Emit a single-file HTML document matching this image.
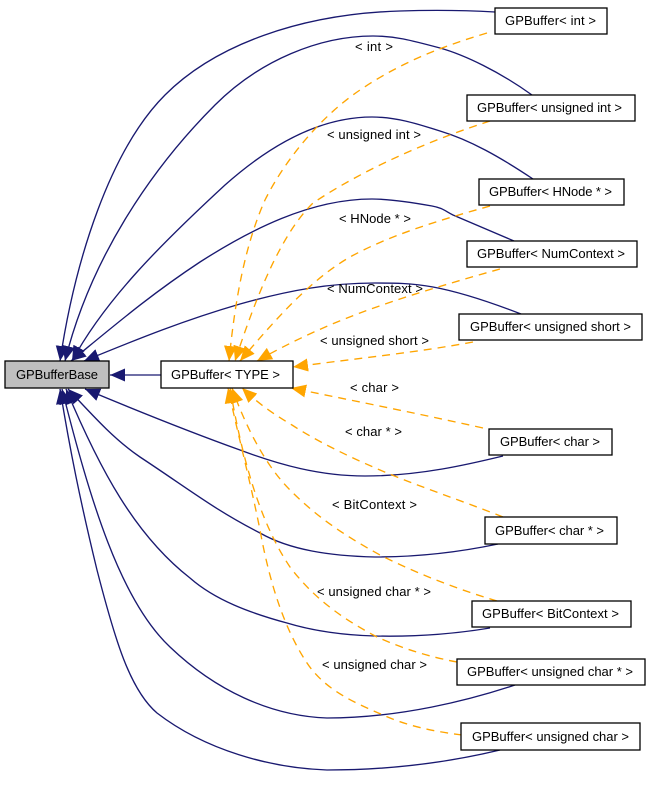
<!DOCTYPE html>
<html><head><meta charset="utf-8"><style>
html,body{margin:0;padding:0;background:#fff}
svg{display:block}
text{font-family:"Liberation Sans",Arial,sans-serif;font-size:13px;fill:#000}
.b{fill:none;stroke:#191970;stroke-width:1.35}
.o{fill:none;stroke:#ffa500;stroke-width:1.35;stroke-dasharray:8 6}
.n{fill:#fff;stroke:#000;stroke-width:1.3}
</style></head><body>
<svg width="651" height="787" viewBox="0 0 651 787" xmlns="http://www.w3.org/2000/svg">
<defs>
<marker id="mb" markerUnits="userSpaceOnUse" markerWidth="18" markerHeight="16" refX="15" refY="7" orient="auto"><polygon points="0,0.5 15,7 0,13.5" fill="#191970"/></marker>
<marker id="mo" markerUnits="userSpaceOnUse" markerWidth="18" markerHeight="16" refX="15" refY="7" orient="auto"><polygon points="0,0.5 15,7 0,13.5" fill="#ffa500"/></marker>
</defs>
<path class="b" marker-end="url(#mb)" d="M495,12 C460,10 430,10 400,11 C300,14 215,45 165,95 C110,150 75,260 60,361"/>
<path class="b" marker-end="url(#mb)" d="M532,95 C500,72 465,55 440,48 C410,40 395,36 373,36 C320,36 260,60 215,105 C150,170 90,260 65,361"/>
<path class="b" marker-end="url(#mb)" d="M533,179 C500,157 470,140 440,131 C415,123 395,117 372,117 C320,117 270,145 225,185 C160,245 105,300 72,361"/>
<path class="b" marker-end="url(#mb)" d="M514,241 L453,215 C445,211 443,208 432,206 C410,202 390,199 372,199 C310,199 250,230 200,262 C150,295 115,325 71,361"/>
<path class="b" marker-end="url(#mb)" d="M521,314 C490,302 460,292 433,287 C410,283 395,283 375,283 C330,283 290,290 240,304 C185,320 140,338 84,361"/>
<path class="b" marker-end="url(#mb)" d="M503,456 C470,464 420,476 365,476 C320,476 280,465 240,450 C190,432 140,412 85,389"/>
<path class="b" marker-end="url(#mb)" d="M498,544 C460,552 420,557 375,557 C330,556 290,550 260,533 C215,510 190,490 140,457 C115,440 95,418 68,389"/>
<path class="b" marker-end="url(#mb)" d="M490,628 C460,633 420,637 375,636 C340,635 310,630 287,623 C250,613 215,600 190,578 C135,535 100,470 66,389"/>
<path class="b" marker-end="url(#mb)" d="M515,685 C470,700 400,718 327,718 C270,716 215,690 170,647 C120,600 90,500 62,389"/>
<path class="b" marker-end="url(#mb)" d="M500,750 C450,762 390,770 327,770 C270,768 205,750 157,713 C130,690 115,640 97,570 C80,500 70,450 60,389"/>
<path class="b" marker-end="url(#mb)" d="M161,375 L110,375"/>

<path class="o" marker-end="url(#mo)" d="M487,33 C440,47 400,63 360,90 C320,117 285,160 265,200 C245,245 235,300 229,361"/>
<path class="o" marker-end="url(#mo)" d="M490,121 C440,137 370,165 313,203 C280,235 255,300 235,361"/>
<path class="o" marker-end="url(#mo)" d="M490,206 C440,220 390,235 350,257 C310,280 275,320 240,361"/>
<path class="o" marker-end="url(#mo)" d="M500,269 C450,283 400,298 360,313 C320,328 285,345 257,361"/>
<path class="o" marker-end="url(#mo)" d="M473,342 C420,352 360,358 293,367"/>
<path class="o" marker-end="url(#mo)" d="M483,428 C420,414 360,402 291,388"/>
<path class="o" marker-end="url(#mo)" d="M503,517 C460,500 420,487 380,470 C345,455 315,440 292,425 C275,415 260,405 242,388"/>
<path class="o" marker-end="url(#mo)" d="M497,601 C460,590 420,575 380,555 C340,533 315,515 290,490 C265,465 245,425 232,388"/>
<path class="o" marker-end="url(#mo)" d="M457,662 C420,655 395,645 377,637 C345,620 315,600 290,567 C265,530 245,475 230,388"/>
<path class="o" marker-end="url(#mo)" d="M462,735 C430,731 405,725 383,715 C355,703 325,690 307,663 C285,630 270,585 260,530 C250,480 238,435 228,388"/>

<rect x="5" y="361" width="104" height="27" fill="#bfbfbf" stroke="#000" stroke-width="1.3"/>
<rect class="n" x="161" y="361" width="132" height="27"/>
<rect class="n" x="495" y="8" width="112" height="26"/>
<rect class="n" x="467" y="95" width="168" height="26"/>
<rect class="n" x="479" y="179" width="145" height="26"/>
<rect class="n" x="467" y="241" width="170" height="26"/>
<rect class="n" x="459" y="314" width="183" height="26"/>
<rect class="n" x="489" y="429" width="123" height="26"/>
<rect class="n" x="485" y="517" width="132" height="27"/>
<rect class="n" x="472" y="601" width="159" height="26"/>
<rect class="n" x="457" y="659" width="188" height="26"/>
<rect class="n" x="461" y="723" width="179" height="27"/>

<text x="16" y="379" textLength="82">GPBufferBase</text>
<text x="171" y="379" textLength="109">GPBuffer&lt; TYPE &gt;</text>
<text x="505" y="25" textLength="91">GPBuffer&lt; int &gt;</text>
<text x="477" y="112" textLength="145">GPBuffer&lt; unsigned int &gt;</text>
<text x="489" y="196" textLength="123">GPBuffer&lt; HNode * &gt;</text>
<text x="477" y="258" textLength="148">GPBuffer&lt; NumContext &gt;</text>
<text x="470" y="331" textLength="161">GPBuffer&lt; unsigned short &gt;</text>
<text x="500" y="446" textLength="100">GPBuffer&lt; char &gt;</text>
<text x="495" y="535" textLength="109">GPBuffer&lt; char * &gt;</text>
<text x="482" y="618" textLength="137">GPBuffer&lt; BitContext &gt;</text>
<text x="467" y="676" textLength="166">GPBuffer&lt; unsigned char * &gt;</text>
<text x="472" y="741" textLength="157">GPBuffer&lt; unsigned char &gt;</text>

<text x="355" y="51" textLength="38">&lt; int &gt;</text>
<text x="327" y="139" textLength="94">&lt; unsigned int &gt;</text>
<text x="339" y="223" textLength="72">&lt; HNode * &gt;</text>
<text x="327" y="293" textLength="96">&lt; NumContext &gt;</text>
<text x="320" y="345" textLength="109">&lt; unsigned short &gt;</text>
<text x="350" y="392" textLength="49">&lt; char &gt;</text>
<text x="345" y="436" textLength="57">&lt; char * &gt;</text>
<text x="332" y="509" textLength="85">&lt; BitContext &gt;</text>
<text x="317" y="596" textLength="114">&lt; unsigned char * &gt;</text>
<text x="322" y="669" textLength="105">&lt; unsigned char &gt;</text>
</svg>
</body></html>
